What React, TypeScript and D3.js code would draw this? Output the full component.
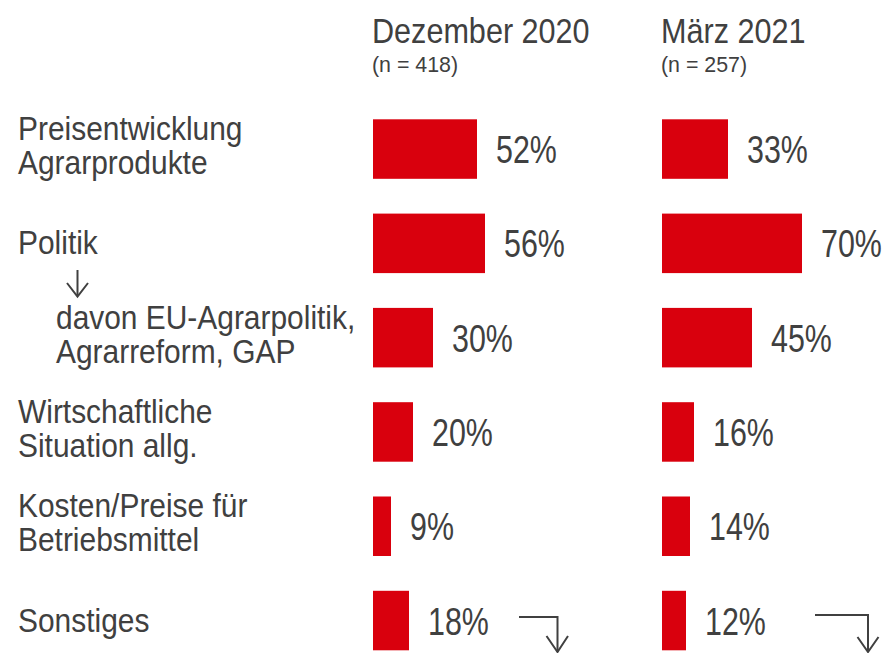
import React from "react";
import * as d3 from "d3";

const categories = [
  "Preisentwicklung\nAgrarprodukte",
  "Politik",
  "davon EU-Agrarpolitik,\nAgrarreform, GAP",
  "Wirtschaftliche\nSituation allg.",
  "Kosten/Preise für\nBetriebsmittel",
  "Sonstiges",
];
const dec2020 = [52, 56, 30, 20, 9, 18];
const mar2021 = [33, 70, 45, 16, 14, 12];
const panelTitles = ["Dezember 2020", "März 2021"];
const panelSubtitles = ["(n = 418)", "(n = 257)"];
const panelValues = [dec2020, mar2021];
const subCategoryIndex = 2;

const W = 883;
const H = 653;
const FONT = "'Liberation Sans', Arial, sans-serif";
const TEXT = "#404040";
const RED = "#D9000D";

function NText({
  x,
  y,
  size,
  sx,
  lines,
  lineH = 34,
}: {
  x: number;
  y: number;
  size: number;
  sx: number;
  lines: string[];
  lineH?: number;
}) {
  return (
    <text
      transform={`translate(${x},${y}) scale(${sx},1)`}
      fontSize={size}
      fill={TEXT}
    >
      {lines.map((l, j) => (
        <tspan key={j} x={0} y={j * lineH}>
          {l}
        </tspan>
      ))}
    </text>
  );
}

export default function App() {
  const y = d3
    .scaleBand<string>()
    .domain(categories)
    .range([119.3, 650.3])
    .paddingInner(0.369)
    .paddingOuter(0);
  const x = d3.scaleLinear().domain([0, 100]).range([0, 200]);
  const panelX = [373, 662];

  return (
    <svg
      width={W}
      height={H}
      style={{ position: "absolute", left: 0, top: 0, background: "#fff" }}
      fontFamily={FONT}
    >
      <rect x={0} y={0} width={W} height={H} fill="#fff" />
      {/* headers */}
      {panelTitles.map((t, i) => (
        <g key={t}>
          <NText x={panelX[i] - 1} y={43} size={36} sx={0.85} lines={[t]} />
          <NText x={panelX[i] - 1} y={72} size={23} sx={0.93} lines={[panelSubtitles[i]]} />
        </g>
      ))}
      {/* category labels */}
      {categories.map((c, i) => {
        const cy = (y(c) as number) + y.bandwidth() / 2;
        const lines = c.split("\n");
        const lx = i === subCategoryIndex ? 56 : 18;
        const first = lines.length === 1 ? cy + 11 : cy - 9;
        return <NText key={c} x={lx} y={first} size={34} sx={0.88} lines={lines} />;
      })}
      {/* small arrow under Politik */}
      <g stroke={TEXT} strokeWidth={2} fill="none">
        <line x1={77.5} y1={270} x2={77.5} y2={296} />
        <polyline points="67,283 77.5,296.5 88,283" />
      </g>
      {/* bars */}
      {panelValues.map((vals, p) => (
        <g key={p} transform={`translate(${panelX[p]},0)`}>
          {vals.map((v, i) => {
            const top = y(categories[i]) as number;
            const cy = top + y.bandwidth() / 2;
            return (
              <g key={i}>
                <rect x={0} y={top} width={x(v)} height={y.bandwidth()} fill={RED} />
                <NText x={x(v) + 19} y={cy + 14} size={38} sx={0.8} lines={[`${v}%`]} />
              </g>
            );
          })}
        </g>
      ))}
      {/* bottom corner arrows */}
      <g stroke={TEXT} strokeWidth={2} fill="none">
        <polyline points="519,617 557.5,617 557.5,652" />
        <polyline points="546.5,636 557.5,652 568,636" />
        <polyline points="815,615 868,615 868,652" />
        <polyline points="857.5,637 868,652 878.5,637" />
      </g>
    </svg>
  );
}
